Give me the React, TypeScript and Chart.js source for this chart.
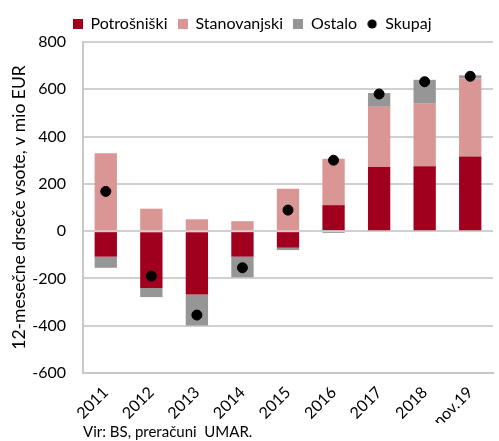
import React, { useEffect, useRef } from "react";
import { Chart, registerables } from "chart.js";

Chart.register(...registerables);

const categories = ["2011", "2012", "2013", "2014", "2015", "2016", "2017", "2018", "nov.19"];
const potrosniski = [-108, -240, -268, -108, -70, 110, 271, 275, 316];
const stanovanjski = [329, 95, 50, 42, 179, 196, 255, 264, 330];
const ostalo = [-47, -39, -131, -87, -10, -8, 58, 101, 13];
const skupaj = [168, -190, -355, -155, 89, 300, 580, 632, 655];

const seriesNames = ["Potrošniški", "Stanovanjski", "Ostalo", "Skupaj"];
const yMin = -600;
const yMax = 800;
const yStep = 200;
const yTitle = "12-mesečne drseče vsote, v mio EUR";
const sourceNote = "Vir: BS, preračuni  UMAR.";

const C_POT = "#A0001E";
const C_STAN = "#DA9694";
const C_OST = "#969696";
const C_SK = "#000000";
const FONT = "Lato, 'Open Sans', sans-serif";

function swatch(color: string, round: boolean) {
  const c = document.createElement("canvas");
  c.width = 10;
  c.height = 10;
  const ctx = c.getContext("2d")!;
  ctx.fillStyle = color;
  if (round) {
    ctx.beginPath();
    ctx.arc(5, 5, 4.6, 0, Math.PI * 2);
    ctx.fill();
  } else {
    ctx.fillRect(0, 0, 10, 10);
  }
  return c;
}

export default function App() {
  const ref = useRef<HTMLCanvasElement | null>(null);

  useEffect(() => {
    if (!ref.current) return;
    const icons = [swatch(C_POT, false), swatch(C_STAN, false), swatch(C_OST, false), swatch(C_SK, true)];
    const barCommon = { type: "bar", stack: "s", order: 2, barPercentage: 0.49, categoryPercentage: 1 };
    const chart = new Chart(ref.current, {
      data: {
        labels: categories,
        datasets: [
          { ...barCommon, label: seriesNames[0], data: potrosniski, backgroundColor: C_POT },
          { ...barCommon, label: seriesNames[1], data: stanovanjski, backgroundColor: C_STAN },
          { ...barCommon, label: seriesNames[2], data: ostalo, backgroundColor: C_OST },
          {
            type: "line",
            label: seriesNames[3],
            data: skupaj,
            stack: "total",
            showLine: false,
            pointRadius: 5,
            pointHoverRadius: 5,
            pointBackgroundColor: C_SK,
            pointBorderColor: C_SK,
            backgroundColor: C_SK,
            borderColor: C_SK,
            order: 1,
          },
        ],
      } as any,
      options: {
        animation: false,
        responsive: false,
        maintainAspectRatio: false,
        layout: { padding: { left: 5, right: 0, top: 0, bottom: 0 } },
        plugins: {
          tooltip: { enabled: false },
          legend: {
            position: "top",
            labels: {
              usePointStyle: true,
              boxWidth: 10,
              boxHeight: 10,
              padding: 10,
              color: "#000",
              font: { family: FONT, size: 16 },
              sort: (a: any, b: any) => a.datasetIndex - b.datasetIndex,
              generateLabels: (ch: any) => {
                const items = Chart.defaults.plugins.legend.labels.generateLabels(ch);
                return items.map((it: any) => ({ ...it, pointStyle: icons[it.datasetIndex], lineWidth: 0 }));
              },
            },
          },
          title: {
            display: true,
            text: sourceNote,
            position: "bottom",
            align: "start",
            fullSize: false,
            color: "#000",
            font: { family: FONT, size: 15, weight: "normal" },
            padding: { top: 0, bottom: 0 },
          },
        },
        scales: {
          x: {
            stacked: true,
            offset: true,
            grid: { display: false },
            border: { display: true, color: "#c8c8c8", width: 2 },
            ticks: {
              color: "#000",
              font: { family: FONT, size: 16 },
              minRotation: 45,
              maxRotation: 45,
              padding: 2,
            },
            afterFit: (s: any) => {
              s.height = 50;
              s.paddingLeft = 0;
              s.paddingRight = 0;
            },
          },
          y: {
            stacked: true,
            min: yMin,
            max: yMax,
            ticks: {
              stepSize: yStep,
              color: "#000",
              font: { family: FONT, size: 16 },
              padding: 17,
            },
            grid: { color: "#d0d0d0", lineWidth: 2, drawTicks: false },
            border: { display: true, color: "#c8c8c8", width: 2 },
            title: {
              display: true,
              text: yTitle,
              color: "#000",
              font: { family: FONT, size: 17.5 },
              padding: { top: 4, bottom: 0 },
            },
            afterFit: (s: any) => {
              s.width = 78;
              s.paddingTop = 42;
            },
          },
        },
      } as any,
    });
    return () => chart.destroy();
  }, []);

  return (
    <div style={{ position: "absolute", left: 0, top: 0, width: 499, height: 441 }}>
      <canvas ref={ref} width={499} height={441} style={{ display: "block" }} />
    </div>
  );
}
